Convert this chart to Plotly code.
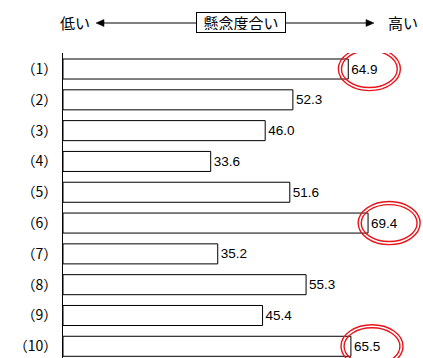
import plotly.graph_objects as go

# Items and their concern scores
categories = ["（1）", "（2）", "（3）", "（4）", "（5）", "（6）", "（7）", "（8）", "（9）", "（10）"]
values = [64.9, 52.3, 46.0, 33.6, 51.6, 69.4, 35.2, 55.3, 45.4, 65.5]
highlighted = ["（1）", "（6）", "（10）"]

W, H = 423, 358
L, T = 63, 53
X_MAX = 81.9

fig = go.Figure(go.Bar(
    x=values,
    y=categories,
    orientation="h",
    width=0.65,
    marker=dict(color="white", line=dict(color="black", width=1)),
    text=[f"{v:.1f}" for v in values],
    textposition="outside",
    textfont=dict(family="Liberation Sans, Arial, sans-serif", size=13.5, color="black"),
    cliponaxis=False,
))

# Double red rings around the highlighted values
shapes = []
for cat in highlighted:
    i = categories.index(cat)
    cx = values[i] + 4.8
    for rx, ry in [(7.05, 0.70), (6.35, 0.60)]:
        shapes.append(dict(
            type="circle", xref="x", yref="y",
            x0=cx - rx, x1=cx + rx, y0=i - ry, y1=i + ry,
            line=dict(color="#e8141a", width=1.4),
            fillcolor="rgba(0,0,0,0)", layer="above",
        ))

# Header arrows: low <- concern -> high
def px(xp):
    return (xp - L) / (W - L)

def py(yp):
    return (H - yp) / (H - T)

ay = 23
shapes.append(dict(type="line", xref="paper", yref="paper",
                   x0=px(103), x1=px(197), y0=py(ay), y1=py(ay),
                   line=dict(color="black", width=1)))
shapes.append(dict(type="line", xref="paper", yref="paper",
                   x0=px(285), x1=px(367), y0=py(ay), y1=py(ay),
                   line=dict(color="black", width=1)))
shapes.append(dict(type="path", xref="paper", yref="paper",
                   path=f"M {px(96)} {py(ay)} L {px(104)} {py(ay - 3.5)} L {px(104)} {py(ay + 3.5)} Z",
                   fillcolor="black", line=dict(color="black", width=0.5)))
shapes.append(dict(type="path", xref="paper", yref="paper",
                   path=f"M {px(374)} {py(ay)} L {px(366)} {py(ay - 3.5)} L {px(366)} {py(ay + 3.5)} Z",
                   fillcolor="black", line=dict(color="black", width=0.5)))

head_font = dict(family="Noto Sans CJK JP, sans-serif", size=15, color="black")
annotations = [
    dict(text="低い", xref="paper", yref="paper", x=px(75), y=py(ay),
         showarrow=False, font=head_font, xanchor="center", yanchor="middle"),
    dict(text="高い", xref="paper", yref="paper", x=px(403), y=py(ay),
         showarrow=False, font=head_font, xanchor="center", yanchor="middle"),
    dict(text="懸念度合い", xref="paper", yref="paper", x=px(241), y=py(ay),
         showarrow=False, font=head_font, xanchor="center", yanchor="middle",
         width=84, height=15,
         bordercolor="black", borderwidth=1, borderpad=2, bgcolor="white"),
]

fig.update_layout(
    width=W, height=H,
    margin=dict(l=L, r=0, t=T, b=0),
    paper_bgcolor="white", plot_bgcolor="white",
    showlegend=False,
    shapes=shapes,
    annotations=annotations,
    xaxis=dict(range=[0, X_MAX], visible=False, fixedrange=True),
    yaxis=dict(
        categoryorder="array", categoryarray=categories,
        range=[9.38, -0.52],
        showline=True, linecolor="black", linewidth=1,
        showgrid=False, zeroline=False, ticks="",
        ticklabelstandoff=2,
        tickfont=dict(family="Noto Sans CJK JP, sans-serif", size=14, color="black"),
        fixedrange=True,
    ),
)

fig.write_html("out.html")
